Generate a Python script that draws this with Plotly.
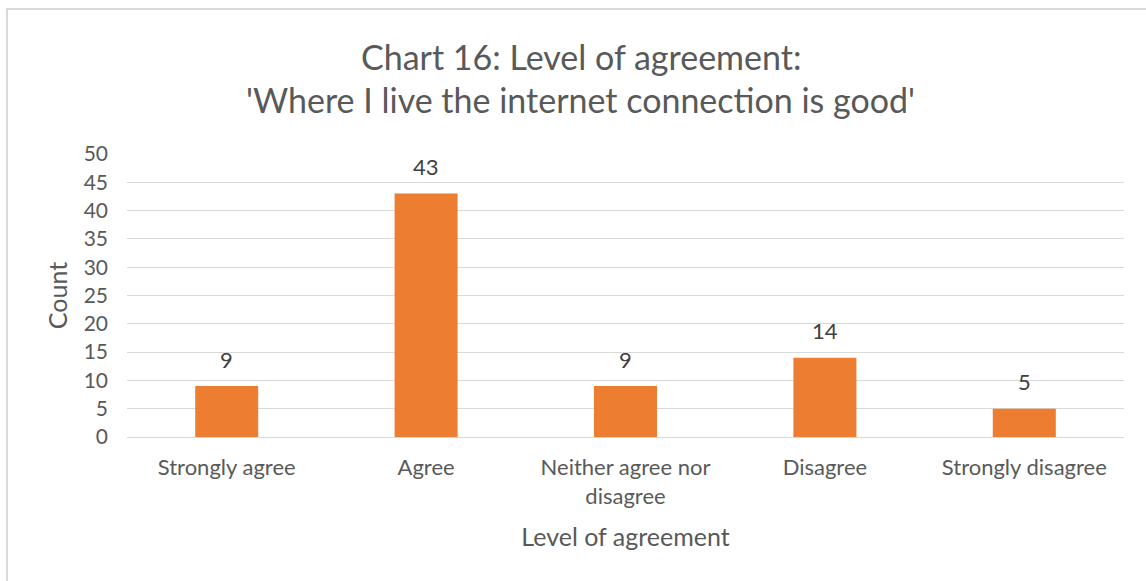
import plotly.graph_objects as go

categories = ["Strongly agree", "Agree", "Neither agree nor disagree", "Disagree", "Strongly disagree"]
tick_labels = ["Strongly agree", "Agree", "Neither agree nor<br>disagree", "Disagree", "Strongly disagree"]
counts = [9, 43, 9, 14, 5]
y_ticks = [0, 5, 10, 15, 20, 25, 30, 35, 40, 45, 50]
title_lines = ["Chart 16: Level of agreement:", "'Where I live the internet connection is good'"]

FONT = "Lato"
GREY = "#595959"
LABEL = "#404040"

fig = go.Figure(
    go.Bar(
        x=categories,
        y=counts,
        marker=dict(color="#ED7D31", line=dict(width=0)),
        hoverinfo="x+y",
    )
)

# value labels sitting above each bar
annotations = [
    dict(
        x=cat,
        y=val,
        xref="x",
        yref="y",
        text=str(val),
        showarrow=False,
        yanchor="middle",
        yshift=27,
        font=dict(family=FONT, size=22, color=LABEL),
    )
    for cat, val in zip(categories, counts)
]

# two-line chart title
for line, ypos in zip(title_lines, [1.343, 1.191]):
    annotations.append(
        dict(
            x=0.455,
            y=ypos,
            xref="paper",
            yref="paper",
            text=line,
            showarrow=False,
            xanchor="center",
            yanchor="middle",
            font=dict(family=FONT, size=34, color=GREY),
        )
    )

fig.update_layout(
    width=1146,
    height=581,
    paper_bgcolor="white",
    plot_bgcolor="white",
    margin=dict(l=127, r=22, t=154, b=144),
    bargap=0.684,
    showlegend=False,
    font=dict(family=FONT, color=GREY),
    annotations=annotations,
    shapes=[
        dict(
            type="rect",
            xref="paper",
            yref="paper",
            x0=-0.1204,
            x1=1.5,
            y0=-1.0,
            y1=1.512,
            line=dict(color="#D9D9D9", width=2),
            fillcolor="rgba(0,0,0,0)",
            layer="below",
        )
    ],
)

fig.update_xaxes(
    tickmode="array",
    tickvals=categories,
    ticktext=tick_labels,
    tickfont=dict(family=FONT, size=22, color=GREY),
    showline=True,
    linecolor="#D9D9D9",
    linewidth=1,
    showgrid=False,
    ticks="",
    ticklabelstandoff=11,
    title=dict(text="Level of agreement", font=dict(family=FONT, size=25, color=GREY), standoff=20),
)

fig.update_yaxes(
    range=[0, 50],
    tickmode="array",
    tickvals=y_ticks,
    tickfont=dict(family=FONT, size=21, color=GREY),
    showgrid=True,
    gridcolor="#D9D9D9",
    gridwidth=1,
    zeroline=False,
    showline=False,
    ticks="",
    ticklabelstandoff=18,
    title=dict(text="Count", font=dict(family=FONT, size=25, color=GREY), standoff=8),
)

fig.write_html("out.html")
